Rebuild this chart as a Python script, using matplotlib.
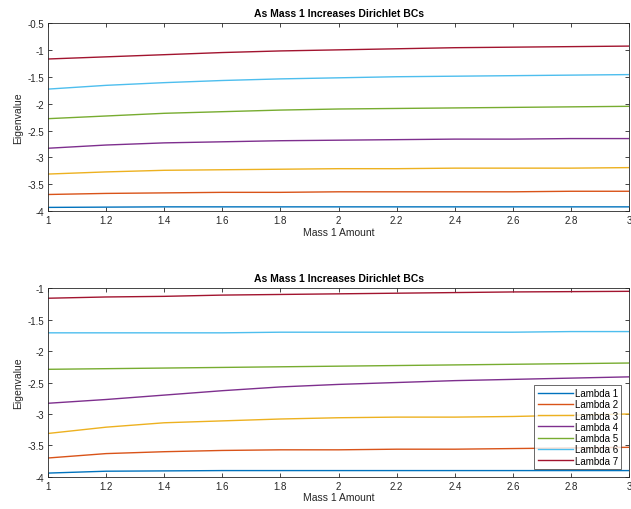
import matplotlib
matplotlib.use('Agg')
import matplotlib.pyplot as plt

plt.rcParams['font.family'] = ['Liberation Sans', 'DejaVu Sans']

mass = [1.0, 1.2, 1.4, 1.6, 1.8, 2.0, 2.2, 2.4, 2.6, 2.8, 3.0]

# top panel
top = {
    'Lambda 1': [-3.93, -3.925, -3.92, -3.92, -3.92, -3.92, -3.92, -3.92, -3.92, -3.92, -3.92],
    'Lambda 2': [-3.69, -3.67, -3.66, -3.65, -3.65, -3.64, -3.64, -3.64, -3.64, -3.63, -3.63],
    'Lambda 3': [-3.31, -3.27, -3.24, -3.23, -3.22, -3.21, -3.21, -3.20, -3.20, -3.20, -3.19],
    'Lambda 4': [-2.83, -2.77, -2.73, -2.71, -2.69, -2.68, -2.67, -2.66, -2.66, -2.65, -2.65],
    'Lambda 5': [-2.28, -2.23, -2.18, -2.15, -2.12, -2.10, -2.09, -2.08, -2.07, -2.06, -2.05],
    'Lambda 6': [-1.73, -1.66, -1.61, -1.57, -1.54, -1.52, -1.50, -1.49, -1.48, -1.47, -1.46],
    'Lambda 7': [-1.17, -1.13, -1.09, -1.05, -1.02, -1.00, -0.98, -0.96, -0.95, -0.94, -0.93],
}

# bottom panel
bottom = {
    'Lambda 1': [-3.94, -3.91, -3.905, -3.90, -3.90, -3.90, -3.90, -3.90, -3.90, -3.90, -3.90],
    'Lambda 2': [-3.70, -3.63, -3.60, -3.58, -3.57, -3.57, -3.56, -3.56, -3.55, -3.54, -3.53],
    'Lambda 3': [-3.31, -3.21, -3.14, -3.11, -3.08, -3.06, -3.05, -3.05, -3.04, -3.02, -3.00],
    'Lambda 4': [-2.83, -2.77, -2.70, -2.63, -2.57, -2.53, -2.50, -2.47, -2.45, -2.43, -2.41],
    'Lambda 5': [-2.29, -2.28, -2.27, -2.26, -2.25, -2.24, -2.23, -2.22, -2.21, -2.20, -2.19],
    'Lambda 6': [-1.71, -1.71, -1.71, -1.71, -1.70, -1.70, -1.70, -1.70, -1.70, -1.69, -1.69],
    'Lambda 7': [-1.16, -1.14, -1.13, -1.11, -1.10, -1.09, -1.08, -1.07, -1.06, -1.055, -1.05],
}

colors = ['#0072BD', '#D95319', '#EDB120', '#7E2F8E', '#77AC30', '#4DBEEE', '#A2142F']
title = 'As Mass 1 Increases Dirichlet BCs'

fig = plt.figure(figsize=(6.31, 5.10), dpi=100)
ax1 = fig.add_axes([0.076, 0.584, 0.921, 0.369])
ax2 = fig.add_axes([0.076, 0.063, 0.921, 0.370])

for ax, data, ylim in [(ax1, top, (-4, -0.5)), (ax2, bottom, (-4, -1))]:
    for (name, vals), c in zip(data.items(), colors):
        ax.plot(mass, vals, color=c, lw=1.0, label=name)
    ax.set_xlim(1, 3)
    ax.set_ylim(*ylim)
    ax.set_xticks([1, 1.2, 1.4, 1.6, 1.8, 2, 2.2, 2.4, 2.6, 2.8, 3])
    ax.set_xticklabels(['1', '1.2', '1.4', '1.6', '1.8', '2', '2.2', '2.4', '2.6', '2.8', '3'])
    ax.tick_params(direction='in', top=True, right=True, labelsize=7,
                   length=3, width=0.6, colors='#262626', pad=3)
    for s in ax.spines.values():
        s.set_linewidth(0.6)
        s.set_color('#262626')
    ax.set_title(title, fontsize=7.5, fontweight='bold', pad=5)
    ax.set_xlabel('Mass 1 Amount', fontsize=7.5, labelpad=1, color='#262626')
    ax.set_ylabel('Eigenvalue', fontsize=7.5, labelpad=3, color='#262626')

ax1.set_yticks([-4, -3.5, -3, -2.5, -2, -1.5, -1, -0.5])
ax1.set_yticklabels(['-4', '-3.5', '-3', '-2.5', '-2', '-1.5', '-1', '-0.5'])
ax2.set_yticks([-4, -3.5, -3, -2.5, -2, -1.5, -1])
ax2.set_yticklabels(['-4', '-3.5', '-3', '-2.5', '-2', '-1.5', '-1'])

leg = ax2.legend(loc='lower right', fontsize=7, frameon=True, fancybox=False,
                 handlelength=3.6, handletextpad=0.2, labelspacing=0.13,
                 borderpad=0.35, borderaxespad=0.8)
leg.get_frame().set_edgecolor('#262626')
leg.get_frame().set_linewidth(0.6)

fig.savefig('out.png', dpi=100)
